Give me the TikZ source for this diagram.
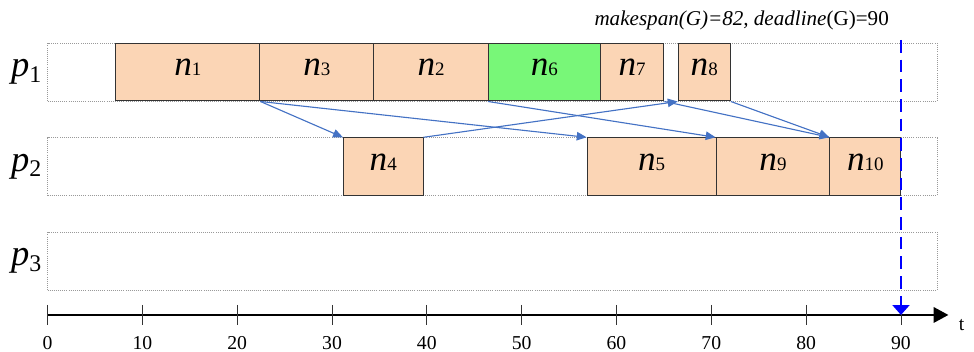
\documentclass[tikz,border=0pt]{standalone}
\usepackage{fontspec}
\setmainfont{Liberation Serif}
\usetikzlibrary{arrows.meta,fit}
\definecolor{peach}{RGB}{251,213,181}
\definecolor{lgreen}{RGB}{120,247,120}
\definecolor{edgeblue}{RGB}{68,114,196}
\newcommand\tsk[1]{\raisebox{-5.2pt}{\textit{n}{\fontsize{13.5}{14}\selectfont #1}}}

\begin{document}
\begin{tikzpicture}[x=2.371mm, y=1cm,
  lane/.style={draw=gray!80, densely dotted, line width=0.5pt, inner sep=0pt, fill=white},
  task/.style={draw=black!80, line width=0.7pt, inner sep=0pt, fill=peach,
               font=\fontsize{25}{27}\selectfont},
  proc/.style={anchor=east, inner sep=0pt, font=\fontsize{26}{28}\selectfont\itshape},
  dep/.style={edgeblue, line width=0.8pt, -{Triangle[length=7pt,width=6pt]}},
  tickmark/.style={black!80, line width=0.6pt},
  ticklbl/.style={font=\fontsize{14}{16}\selectfont},
  timeaxis/.style={black, line width=1.4pt, -{Triangle[length=10.5pt,width=11pt]}},
  deadline/.style={blue, line width=1.3pt, dash pattern=on 9pt off 5pt,
                   -{Triangle[length=7pt,width=12pt]}},
  note/.style={font=\fontsize{15}{17}\selectfont}]

\useasboundingbox (-5.01,-0.925) rectangle (97.7,7.875);

% ---------- processor lanes ----------
\foreach \p/\yb in {1/5.35, 2/2.99, 3/0.625} {
  \node[lane, fit={(0,\yb) (93.8,{\yb+1.44})}] (row\p) {};
  \node[proc] (p\p) at ([xshift=-4pt]row\p.west)
    {p\raisebox{-4pt}{\fontsize{17}{17}\selectfont\upshape\p}};
}

% ---------- scheduled tasks ----------
\foreach \id/\ts/\te/\yb/\col in {1/7.2/22.4/5.35/peach, 3/22.4/34.4/5.35/peach,
    2/34.4/46.5/5.35/peach, 6/46.5/58.3/5.35/lgreen, 7/58.3/65.0/5.35/peach,
    8/66.5/72.0/5.35/peach, 4/31.2/39.6/2.99/peach, 5/56.9/70.5/2.99/peach,
    9/70.5/82.5/2.99/peach, 10/82.5/90.0/2.99/peach}
  \node[task, fill=\col, fit={(\ts,\yb) (\te,{\yb+1.44})}] (n\id) {\tsk{\id}};

% ---------- precedence edges ----------
\draw[dep] (n1.south east) -- (n4.north west);
\draw[dep] (n1.south east) -- (n5.north west);
\draw[dep] (n4.north east) -- (n8.south west);
\draw[dep] (n6.south west) -- (n9.north west);
\draw[dep] (n7.south east) -- (n10.north west);
\draw[dep] (n8.south east) -- (n10.north west);

% ---------- time axis ----------
\coordinate (t0) at (0,0);
\coordinate (tmax) at (95,0);
\draw[timeaxis] (t0) -- (tmax);
\foreach \t in {0,10,...,90} {
  \draw[tickmark] (\t,0.25) -- (\t,-0.25);
  \node[ticklbl] (tk\t) at (\t,-0.7) {\t};
}
\node[ticklbl] (tlbl) at (96.4,-0.25) {t};

% ---------- deadline ----------
\coordinate (dltop) at (90,6.875);
\coordinate (dlend) at (90,0);
\draw[deadline] (dltop) -- (dlend);
\node[note] (span) at (73.2,7.375) {\textit{makespan(G)=82, deadline}(G)=90};
\end{tikzpicture}
\end{document}
